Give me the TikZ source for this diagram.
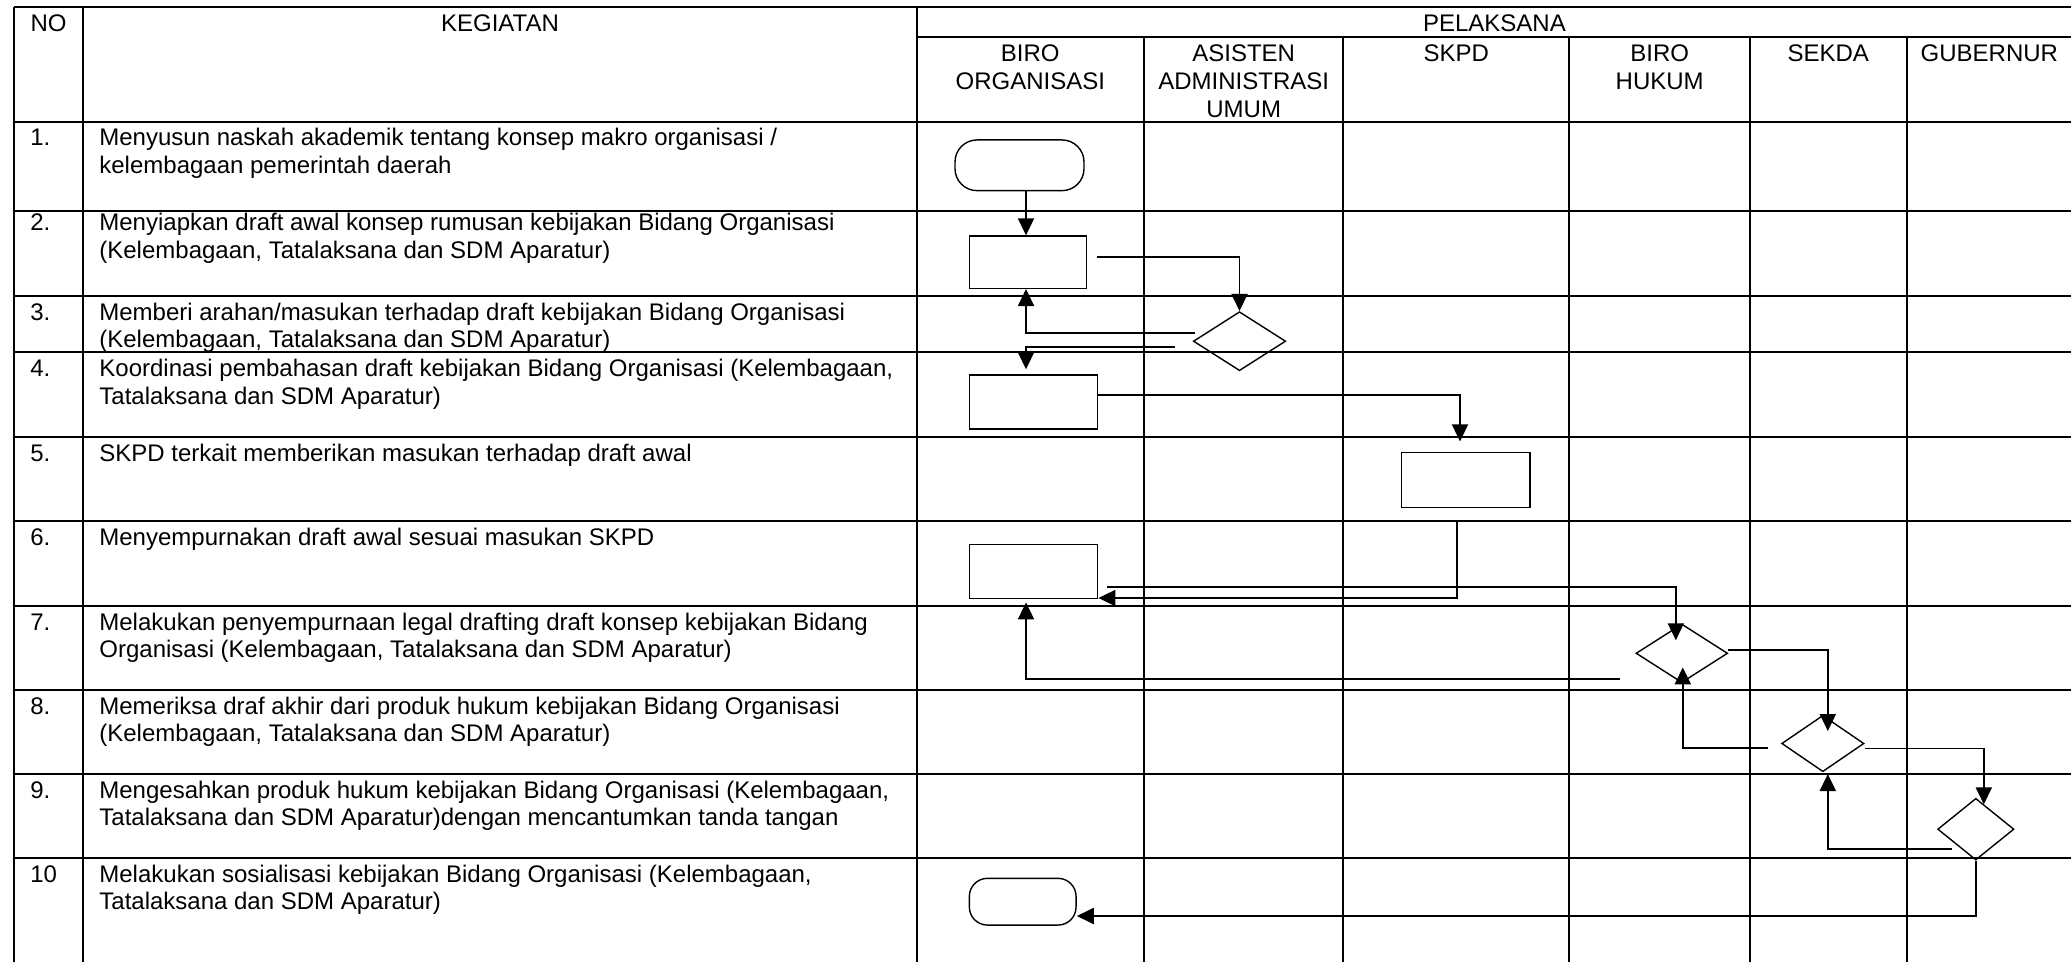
\documentclass[tikz,border=0pt]{standalone}
\usepackage{fontspec}
\setmainfont{Liberation Sans}
\usetikzlibrary{shapes.geometric,arrows.meta,calc}
% stacked lines whose reference point is the baseline of the first line
\newcommand\ltab[1]{\begin{tabular}[t]{@{}l@{}}#1\end{tabular}}
\newcommand\ctab[1]{\begin{tabular}[t]{@{}c@{}}#1\end{tabular}}
\begin{document}
\begin{tikzpicture}[x=0.5pt,y=-0.5pt,
  grid/.style={line width=1pt},
  txt/.style={font=\fontsize{12pt}{13.8pt}\selectfont, inner sep=0pt, anchor=base west},
  hdr/.style={font=\fontsize{12pt}{13.8pt}\selectfont, inner sep=0pt, anchor=base},
  proc/.style={draw, line width=0.7pt, rectangle, inner sep=0pt},
  term/.style={draw, line width=0.7pt, rectangle, rounded corners=9pt, inner sep=0pt},
  dec/.style={draw, line width=0.7pt, diamond, inner sep=0pt},
  arr/.style={line width=0.95pt, -{Triangle[length=8.5pt,width=8pt]}},
]
\useasboundingbox (0,0) rectangle (2071,962);
\fill[white] (0,0) rectangle (2071,962);

% ---- table grid ----
\draw[grid] (14,7.3) -- (2075,7.3);
\draw[grid] (916.7,37.3) -- (2075,37.3);
\foreach \y in {121.7,211,296,352.3,436.7,521,606,690,774,857.7}
  \draw[grid] (14,\y) -- (2075,\y);
\foreach \x in {14,83.3,916.7}
  \draw[grid] (\x,7.3) -- (\x,965);
\foreach \x in {1144,1343.3,1569.3,1750,1906.7}
  \draw[grid] (\x,37.3) -- (\x,965);

% ---- headers ----
\node[hdr] (hNo)  at (48.6,32)   {NO};
\node[hdr] (hKeg) at (500,32)    {KEGIATAN};
\node[hdr] (hPel) at (1494.4,32) {PELAKSANA};
\node[hdr] (hBO)  at (1030.3,62) {\ctab{BIRO\\ORGANISASI}};
\node[hdr] (hAs)  at (1243.7,62) {\ctab{ASISTEN\\ADMINISTRASI\\UMUM}};
\node[hdr] (hSk)  at (1456.3,62) {SKPD};
\node[hdr] (hBH)  at (1659.7,62) {\ctab{BIRO\\HUKUM}};
\node[hdr] (hSe)  at (1828.3,62) {SEKDA};
\node[hdr] (hGu)  at (1989.3,62) {GUBERNUR};

% ---- row numbers ----
\node[txt] (n1)  at (30,146)   {1.};
\node[txt] (n2)  at (30,231)   {2.};
\node[txt] (n3)  at (30,320.3) {3.};
\node[txt] (n4)  at (30,376.6) {4.};
\node[txt] (n5)  at (30,461)   {5.};
\node[txt] (n6)  at (30,545.3) {6.};
\node[txt] (n7)  at (30,630.3) {7.};
\node[txt] (n8)  at (30,714.3) {8.};
\node[txt] (n9)  at (30,798.3) {9.};
\node[txt] (n10) at (30,882)   {10};

% ---- activities ----
\node[txt] (k1) at (99,146) {\ltab{Menyusun naskah akademik tentang konsep makro organisasi /\\kelembagaan pemerintah daerah}};
\node[txt] (k2) at (99,231) {\ltab{Menyiapkan draft awal konsep rumusan kebijakan Bidang Organisasi\\(Kelembagaan, Tatalaksana dan SDM Aparatur)}};
\node[txt] (k3) at (99,320.3) {\ltab{Memberi arahan/masukan terhadap draft kebijakan Bidang Organisasi\\(Kelembagaan, Tatalaksana dan SDM Aparatur)}};
\node[txt] (k4) at (99,376.6) {\ltab{Koordinasi pembahasan draft kebijakan Bidang Organisasi (Kelembagaan,\\Tatalaksana dan SDM Aparatur)}};
\node[txt] (k5) at (99,461) {SKPD terkait memberikan masukan terhadap draft awal};
\node[txt] (k6) at (99,545.3) {Menyempurnakan draft awal sesuai masukan SKPD};
\node[txt] (k7) at (99,630.3) {\ltab{Melakukan penyempurnaan legal drafting draft konsep kebijakan Bidang\\Organisasi (Kelembagaan, Tatalaksana dan SDM Aparatur)}};
\node[txt] (k8) at (99,714.3) {\ltab{Memeriksa draf akhir dari produk hukum kebijakan Bidang Organisasi\\(Kelembagaan, Tatalaksana dan SDM Aparatur)}};
\node[txt] (k9) at (99,798.3) {\ltab{Mengesahkan produk hukum kebijakan Bidang Organisasi (Kelembagaan,\\Tatalaksana dan SDM Aparatur)dengan mencantumkan tanda tangan}};
\node[txt] (k10) at (99,882) {\ltab{Melakukan sosialisasi kebijakan Bidang Organisasi (Kelembagaan,\\Tatalaksana dan SDM Aparatur)}};

% ---- flow symbols ----
\node[term, minimum width=64.5pt, minimum height=25.35pt, rounded corners=11pt] (S) at (1019.5,165.3) {};
\node[proc, minimum width=58.7pt, minimum height=26.15pt] (B2) at (1028,262.2) {};
\node[dec,  minimum width=46.2pt, minimum height=29.5pt]  (D3) at (1239.5,341.2) {};
\node[proc, minimum width=64.2pt, minimum height=27pt]    (B4) at (1033.5,402) {};
\node[proc, minimum width=64.35pt, minimum height=27.5pt] (B5) at (1465.6,480.2) {};
\node[proc, minimum width=64.2pt, minimum height=27pt]    (B6) at (1033.5,571.3) {};
\node[dec,  minimum width=45.85pt, minimum height=29.35pt] (D7) at (1681.8,653.3) {};
\node[dec,  minimum width=41.15pt, minimum height=28.2pt]  (D8) at (1822.8,743.5) {};
\node[dec,  minimum width=38.15pt, minimum height=30.85pt] (D9) at (1975.8,829.2) {};
\node[term, minimum width=53.35pt, minimum height=23.35pt] (E) at (1022.7,901.7) {};

% ---- guides and loose line ends ----
\coordinate (gx)  at (1026,0);
\coordinate (gx5) at (1460,0);
\coordinate (o2)  at (1096.7,257.3);
\coordinate (o3a) at (1195,332.7);
\coordinate (o3b) at (1175,346.7);
\coordinate (o5)  at (1457.3,521.7);
\coordinate (o6)  at (1106.7,586.7);
\coordinate (o7)  at (1620,679);
\coordinate (o8)  at (1768.3,748.3);
\coordinate (o9)  at (1952.3,849);

% ---- connectors ----
\draw[arr] (S.south -| gx) -- (B2.north -| gx);
\draw[arr] (o2) -| (D3.north);
\draw[arr] (o3a) -| (B2.south -| gx);
\draw[arr, shorten >=2.5pt] (o3b) -| (B4.north -| gx);
\draw[arr, shorten >=5.3pt] ($(B4.east)+(0,-7)$) -| (B5.north -| gx5);
\draw[arr] (o5) |- ($(B6.south east)+(0,-1)$);
\draw[arr] (o6) -| ($(D7.north)+(-6,17)$);
\draw[arr, shorten >=1.7pt] (o7) -| (B6.south -| gx);
\draw[arr] (o8) -| ($(D7.south)+(1,-16)$);
\draw[arr] ($(D7.east)+(0,-3)$) -| ($(D8.north)+(5,16.4)$);
\draw[arr] ($(D8.east)+(0,5)$) -| ($(D9.north)+(8,6.7)$);
\draw[arr] (o9) -| ($(D8.south)+(5,1.6)$);
\draw[arr] (D9.south) |- ($(E.east)+(0,14.3)$);
\end{tikzpicture}
\end{document}
